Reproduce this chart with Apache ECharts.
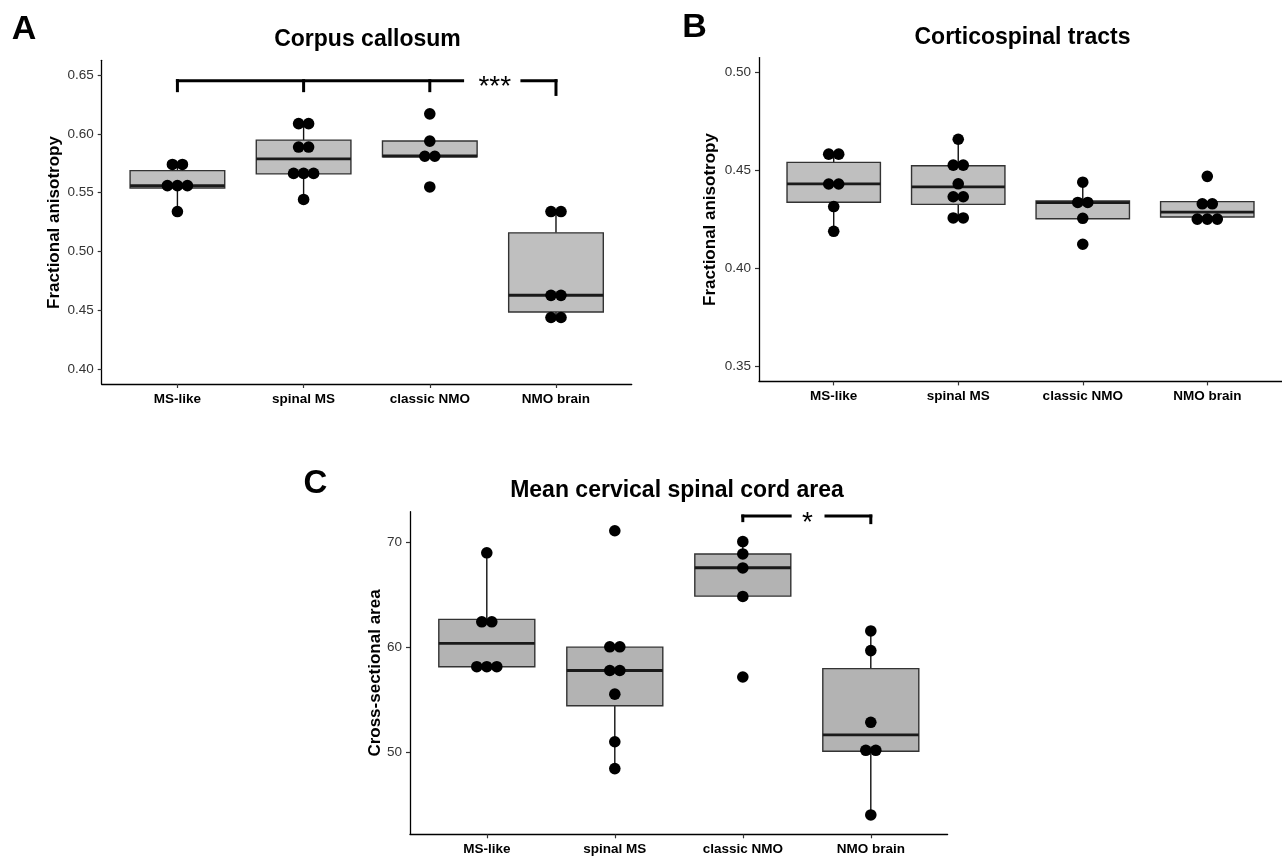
<!DOCTYPE html>
<html><head><meta charset="utf-8">
<script src="https://cdn.jsdelivr.net/npm/echarts@6/dist/echarts.min.js"></script>
<style>html,body{margin:0;padding:0;background:#fff}#c{width:1282px;height:858px}</style>
</head><body><div id="c"></div>
<script>
// ---------- data ----------
const categories = ['MS-like', 'spinal MS', 'classic NMO', 'NMO brain'];

// Panel A: Corpus callosum (fractional anisotropy)
const ccPoints = [
  [0.574, 0.574, 0.556, 0.556, 0.556, 0.534],
  [0.6087, 0.6087, 0.5888, 0.5888, 0.5664, 0.5664, 0.5664, 0.5443],
  [0.617, 0.5938, 0.581, 0.581, 0.5549],
  [0.534, 0.534, 0.4628, 0.4628, 0.444, 0.444]
];
// [lower whisker, Q1, median, Q3, upper whisker]
const ccBoxes = [
  [0.534, 0.554, 0.556, 0.5688, 0.574],
  [0.5443, 0.566, 0.5787, 0.5947, 0.6087],
  [0.5806, 0.5806, 0.5812, 0.5939, 0.5939],
  [0.444, 0.4487, 0.4629, 0.5159, 0.534]
];
const ccTicks = [0.40, 0.45, 0.50, 0.55, 0.60, 0.65];
const ccRange = [0.3875, 0.6625];
const ccBracketY = 0.6452;
const ccBracketTips = [[0, 0.6367], [1, 0.6367], [2, 0.6367], [3, 0.6335]];
const ccBracketGap = [2.26, 2.73];
const ccSig = ['***', 2.515, 0.6452];

// Panel B: Corticospinal tracts
const csPoints = [
  [0.4583, 0.4583, 0.4431, 0.4431, 0.4316, 0.419],
  [0.4659, 0.4527, 0.4527, 0.4432, 0.4366, 0.4366, 0.4258, 0.4258],
  [0.444, 0.4337, 0.4337, 0.4256, 0.4124],
  [0.447, 0.433, 0.433, 0.4252, 0.4252, 0.4252]
];
const csBoxes = [
  [0.4188, 0.4338, 0.4432, 0.4541, 0.4582],
  [0.4256, 0.4327, 0.4416, 0.4524, 0.4659],
  [0.4254, 0.4254, 0.4336, 0.4344, 0.444],
  [0.4251, 0.4263, 0.4288, 0.4341, 0.4341]
];
const csTicks = [0.35, 0.40, 0.45, 0.50];
const csRange = [0.3425, 0.5075];

// Panel C: Mean cervical spinal cord area
const caPoints = [
  [68.97, 62.41, 62.41, 58.14, 58.14, 58.14],
  [71.07, 60.03, 60.03, 57.78, 57.78, 55.53, 51.0, 48.45],
  [70.03, 68.86, 67.53, 64.82, 57.16],
  [61.54, 59.67, 52.85, 50.19, 50.19, 44.04]
];
const caBoxes = [
  [58.14, 58.14, 60.35, 62.64, 68.97],
  [48.45, 54.42, 57.78, 60.0, 60.03],
  [64.85, 64.85, 67.55, 68.86, 70.03],
  [44.04, 50.1, 51.65, 57.96, 61.54]
];
const caTicks = [50, 60, 70];
const caRange = [42.2, 72.88];
const caBracketY = 72.47;
const caBracketTips = [[2, 72.03], [3, 71.84]];
const caBracketGap = [2.37, 2.65];
const caSig = ['*', 2.505, 72.47];

const titles = ['Corpus callosum', 'Corticospinal tracts', 'Mean cervical spinal cord area'];
const panelLetters = ['A', 'B', 'C'];
const yNames = ['Fractional anisotropy', 'Fractional anisotropy', 'Cross-sectional area'];

// ---------- styling ----------
const FONT = '"Liberation Sans", Arial, Helvetica, sans-serif';
const DOT_R = 5.8, DOT_STEP = 10, BOX_FRAC = 0.75;
const X_PAD = 0.6; // discrete-axis expansion on each side (in category units)

const grids = [
  { left: 101.7, top: 60.3, width: 530, height: 323.7 },
  { left: 759, top: 57.6, width: 529, height: 323.8 },
  { left: 410, top: 511.7, width: 537.6, height: 322.6 }
];
const catPositions = categories.map((c, i) => i);

function dotData(points) {
  const out = [];
  points.forEach((vals, ci) => {
    const groups = {};
    vals.forEach(v => { const k = v.toFixed(5); (groups[k] = groups[k] || []).push(v); });
    Object.keys(groups).forEach(k => {
      const g = groups[k];
      g.forEach((v, j) => out.push([ci, v, j, g.length]));
    });
  });
  return out;
}
function boxData(boxes) { return boxes.map((b, i) => [i].concat(b)); }
function bracketData(y, tips, gap) {
  const segs = [];
  const xs = tips.map(t => t[0]);
  const x0 = Math.min.apply(null, xs), x1 = Math.max.apply(null, xs);
  segs.push([x0, y, gap[0], y]);
  segs.push([gap[1], y, x1, y]);
  tips.forEach(t => segs.push([t[0], y, t[0], t[1]]));
  return segs;
}

function boxRender(fill) {
  return function (params, api) {
    const c = api.value(0);
    const lo = api.value(1), q1 = api.value(2), md = api.value(3), q3 = api.value(4), hi = api.value(5);
    const xl = api.coord([c - BOX_FRAC / 2, q1])[0], xr = api.coord([c + BOX_FRAC / 2, q1])[0];
    const x = api.coord([c, q1])[0];
    const yLo = api.coord([c, lo])[1], yQ1 = api.coord([c, q1])[1], yMd = api.coord([c, md])[1];
    const yQ3 = api.coord([c, q3])[1], yHi = api.coord([c, hi])[1];
    return {
      type: 'group', children: [
        { type: 'line', shape: { x1: x, y1: yHi, x2: x, y2: yQ3 }, style: { stroke: '#111', lineWidth: 1.4 } },
        { type: 'line', shape: { x1: x, y1: yQ1, x2: x, y2: yLo }, style: { stroke: '#111', lineWidth: 1.4 } },
        { type: 'rect', shape: { x: xl, y: yQ3, width: xr - xl, height: yQ1 - yQ3 }, style: { fill: fill, stroke: '#333', lineWidth: 1.4 } },
        { type: 'line', shape: { x1: xl, y1: yMd, x2: xr, y2: yMd }, style: { stroke: '#1a1a1a', lineWidth: 2.8 } }
      ]
    };
  };
}
function dotRender(params, api) {
  const p = api.coord([api.value(0), api.value(1)]);
  const k = api.value(2), n = api.value(3);
  return { type: 'circle', shape: { cx: p[0] + (k - (n - 1) / 2) * DOT_STEP, cy: p[1], r: DOT_R }, style: { fill: '#000' } };
}
function bracketRender(params, api) {
  const a = api.coord([api.value(0), api.value(1)]);
  const b = api.coord([api.value(2), api.value(3)]);
  return { type: 'line', shape: { x1: a[0], y1: a[1], x2: b[0], y2: b[1] }, style: { stroke: '#000', lineWidth: 3, lineCap: 'square' } };
}
function sigRender(label, size) {
  return function (params, api) {
    const p = api.coord([api.value(0), api.value(1)]);
    return { type: 'text', x: p[0], y: p[1] + size * 0.25, style: { text: label, fontFamily: FONT, fontSize: size, fill: '#000', align: 'center', verticalAlign: 'middle' } };
  };
}

const xAxes = grids.map((g, i) => ({
  type: 'value', gridIndex: i, min: -X_PAD, max: categories.length - 1 + X_PAD,
  splitLine: { show: false },
  axisLine: { onZero: false, lineStyle: { color: '#000', width: 1.3 } },
  axisTick: { show: true, length: 4, lineStyle: { color: '#333', width: 1.2 }, customValues: catPositions },
  axisLabel: { fontFamily: FONT, fontWeight: 'bold', fontSize: 13.5, color: '#000', margin: 8, customValues: catPositions,
    formatter: v => categories[Math.round(v)] }
}));
const ranges = [ccRange, csRange, caRange];
const ticks = [ccTicks, csTicks, caTicks];
const decimals = [2, 2, 0];
const yAxes = grids.map((g, i) => ({
  type: 'value', gridIndex: i, min: ranges[i][0], max: ranges[i][1],
  axisLine: { show: true, onZero: false, lineStyle: { color: '#000', width: 1.3 } },
  axisTick: { show: true, length: 4, lineStyle: { color: '#333', width: 1.2 }, customValues: ticks[i] },
  axisLabel: { fontFamily: FONT, fontSize: 13.5, color: '#333', margin: 8, customValues: ticks[i],
    formatter: v => Number(v).toFixed(decimals[i]) },
  splitLine: { show: false }
}));

const series = [];
const allBoxes = [ccBoxes, csBoxes, caBoxes];
const allPoints = [ccPoints, csPoints, caPoints];
const fills = ['#bfbfbf', '#bfbfbf', '#b3b3b3'];
for (let i = 0; i < 3; i++) {
  series.push({ type: 'custom', xAxisIndex: i, yAxisIndex: i, z: 2, renderItem: boxRender(fills[i]), data: boxData(allBoxes[i]), silent: true });
  series.push({ type: 'custom', xAxisIndex: i, yAxisIndex: i, z: 3, renderItem: dotRender, data: dotData(allPoints[i]), silent: true });
}
series.push({ type: 'custom', xAxisIndex: 0, yAxisIndex: 0, z: 4, renderItem: bracketRender, data: bracketData(ccBracketY, ccBracketTips, ccBracketGap), silent: true });
series.push({ type: 'custom', xAxisIndex: 0, yAxisIndex: 0, z: 4, renderItem: sigRender(ccSig[0], 28), data: [[ccSig[1], ccSig[2]]], silent: true });
series.push({ type: 'custom', xAxisIndex: 2, yAxisIndex: 2, z: 4, renderItem: bracketRender, data: bracketData(caBracketY, caBracketTips, caBracketGap), silent: true });
series.push({ type: 'custom', xAxisIndex: 2, yAxisIndex: 2, z: 4, renderItem: sigRender(caSig[0], 28), data: [[caSig[1], caSig[2]]], silent: true });

function txt(text, x, y, size, opts) {
  return Object.assign({ type: 'text', x: x, y: y, style: { text: text, fontFamily: FONT, fontWeight: 'bold', fontSize: size, fill: '#000', align: 'center', verticalAlign: 'middle' } }, opts || {});
}
const graphic = [
  txt(panelLetters[0], 24, 29.5, 34),
  txt(panelLetters[1], 694.5, 27.5, 34),
  txt(panelLetters[2], 315.5, 484, 33),
  txt(titles[0], 367.5, 40, 23),
  txt(titles[1], 1022.5, 38, 23),
  txt(titles[2], 677, 490.5, 23),
  txt(yNames[0], 54, 222.5, 17, { rotation: Math.PI / 2 }),
  txt(yNames[1], 710.5, 219.5, 17, { rotation: Math.PI / 2 }),
  txt(yNames[2], 375, 673, 17, { rotation: Math.PI / 2 })
];

const chart = echarts.init(document.getElementById('c'), null, { renderer: 'canvas' });
chart.setOption({
  animation: false,
  backgroundColor: '#fff',
  grid: grids.map(g => Object.assign({ containLabel: false }, g)),
  xAxis: xAxes, yAxis: yAxes, series: series, graphic: graphic
});
</script></body></html>
